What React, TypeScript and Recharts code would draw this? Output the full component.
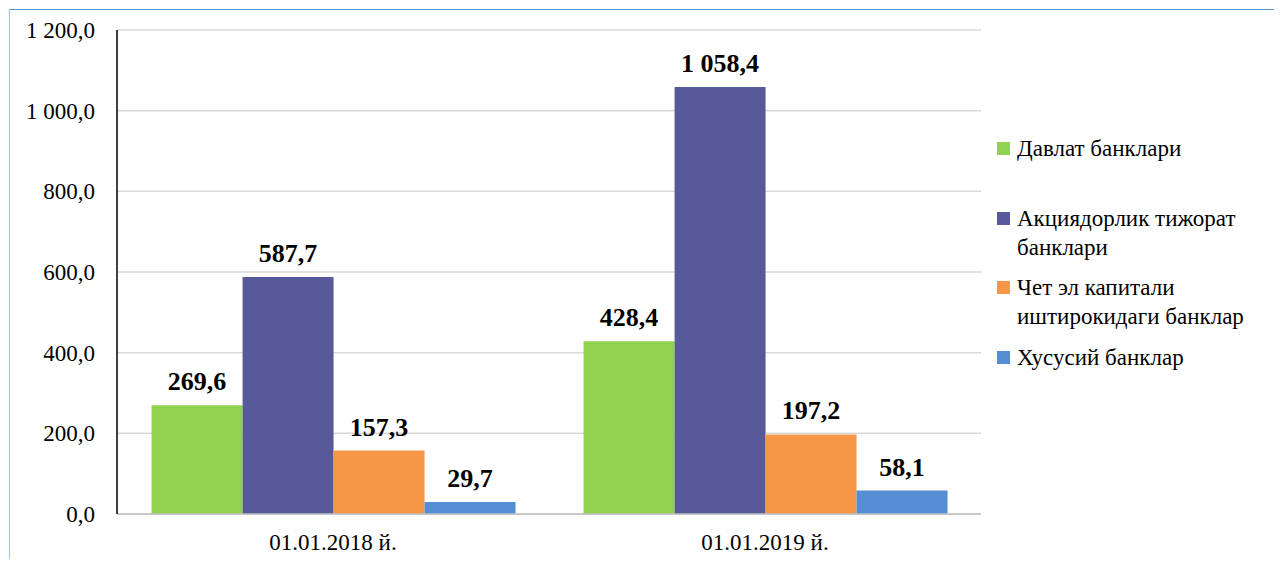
import React from 'react';
import { BarChart, Bar, XAxis, YAxis, CartesianGrid, LabelList } from 'recharts';

const categories = ['01.01.2018 й.', '01.01.2019 й.'];
const seriesNames = [
  'Давлат банклари',
  'Акциядорлик тижорат банклари',
  'Чет эл капитали иштирокидаги банклар',
  'Хусусий банклар',
];
const stateBanks = [269.6, 428.4];
const jointStockBanks = [587.7, 1058.4];
const foreignBanks = [157.3, 197.2];
const privateBanks = [29.7, 58.1];
const yTicks = [0, 200, 400, 600, 800, 1000, 1200];

const colors = ['#92d050', '#58599b', '#f79646', '#558ed5'];
const keys = ['s0', 's1', 's2', 's3'];
const seriesValues = [stateBanks, jointStockBanks, foreignBanks, privateBanks];

const data = categories.map((name, i) => {
  const row: Record<string, any> = { name };
  seriesValues.forEach((vals, k) => {
    row[keys[k]] = vals[i];
  });
  return row;
});

const FONT = "'Liberation Serif', 'DejaVu Serif', serif";

// 1058.4 -> "1 058,4"
const fmt = (v: number) => {
  const [int, dec] = v.toFixed(1).split('.');
  return int.replace(/\B(?=(\d{3})+(?!\d))/g, ' ') + ',' + dec;
};

const App: React.FC = () => {
  return (
    <div
      style={{
        position: 'relative',
        marginLeft: 1,
        marginTop: 1,
        width: 1272,
        height: 549,
        borderTop: '1px solid #5f8fd3',
        borderLeft: '1px solid #a3c0e8',
        background: '#fff',
        fontFamily: FONT,
      }}
    >
      <BarChart
        width={990}
        height={549}
        data={data}
        margin={{ top: 20, right: 19, left: 0, bottom: 0 }}
        barCategoryGap="8%"
        barGap={0}
        style={{ fontFamily: FONT }}
      >
        <CartesianGrid vertical={false} stroke="#d9d9d9" strokeWidth={1.5} />
        <XAxis
          dataKey="name"
          height={45}
          axisLine={{ stroke: '#bfbfbf', strokeWidth: 1.5 }}
          tickLine={false}
          tickSize={0}
          tickMargin={20}
          tick={{ fill: '#000', fontSize: 23, fontFamily: FONT }}
        />
        <YAxis
          width={107}
          domain={[0, 1200]}
          ticks={yTicks}
          interval={0}
          axisLine={{ stroke: '#000', strokeWidth: 1.5 }}
          tickLine={false}
          tickSize={0}
          tickMargin={22}
          tickFormatter={fmt}
          tick={{ fill: '#000', fontSize: 23, fontFamily: FONT }}
        />
        {keys.map((k, i) => (
          <Bar key={k} dataKey={k} name={seriesNames[i]} fill={colors[i]} isAnimationActive={false}>
            <LabelList
              dataKey={k}
              position="top"
              offset={15}
              formatter={(v: any) => fmt(Number(v))}
              fill="#000"
              fontSize={26}
              fontWeight="bold"
              fontFamily={FONT}
            />
          </Bar>
        ))}
      </BarChart>
      <div style={{ position: 'absolute', left: 0, top: 0 }}>
        {seriesNames.map((name, i) => {
          const top = 124 + i * 69.7;
          return (
            <div
              key={name}
              style={{
                position: 'absolute',
                left: 987,
                top,
                width: 280,
                display: 'flex',
                alignItems: 'flex-start',
              }}
            >
              <span
                style={{
                  display: 'inline-block',
                  width: 13,
                  height: 13,
                  marginTop: 8,
                  background: colors[i],
                  flexShrink: 0,
                }}
              />
              <span
                style={{
                  marginLeft: 7,
                  width: 262,
                  fontSize: 23,
                  lineHeight: '29px',
                  color: '#000',
                  fontFamily: FONT,
                }}
              >
                {name}
              </span>
            </div>
          );
        })}
      </div>
    </div>
  );
};

export default App;
